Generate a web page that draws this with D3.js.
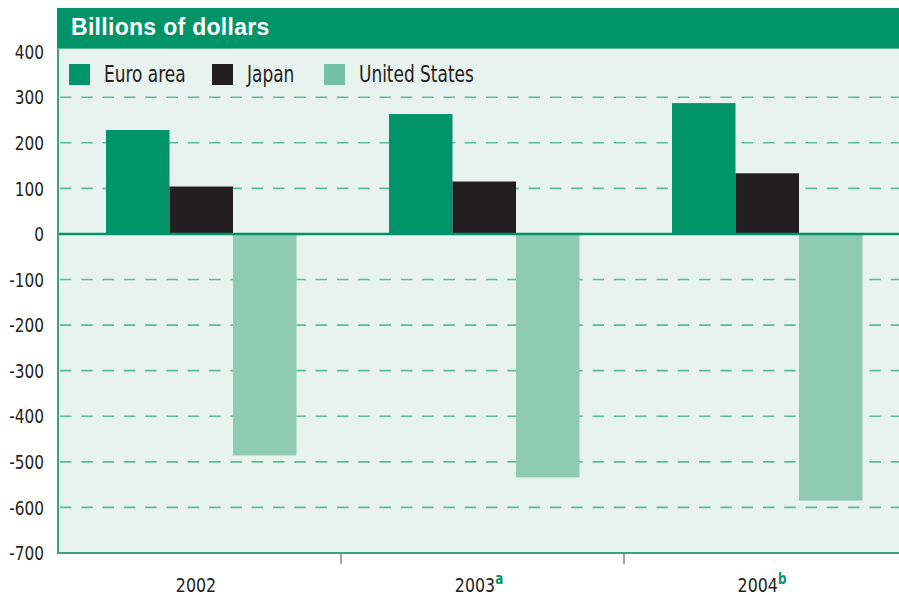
<!DOCTYPE html>
<html>
<head>
<meta charset="utf-8">
<script src="https://d3js.org/d3.v7.min.js"></script>
<style>
  body { margin: 0; background: #fff; }
  svg text { font-family: "DejaVu Sans Condensed", "Liberation Sans Narrow", "Roboto", sans-serif; }
</style>
</head>
<body>
<div id="container"></div>
<script>
// data
var years = ["2002", "2003", "2004"];
var yearNotes = ["", "a", "b"];
var seriesNames = ["Euro area", "Japan", "United States"];
var euroArea = [228, 263, 287];
var japan = [104, 115, 133];
var unitedStates = [-486, -534, -585];
var yTicks = [400, 300, 200, 100, 0, -100, -200, -300, -400, -500, -600, -700];

var barColors = ["#009468", "#231f20", "#8fcab5"];
var legendColors = ["#009468", "#231f20", "#74c0a6"];

var width = 899, height = 595;
var plotLeft = 58, plotRight = 899, plotTop = 8, plotBottom = 553;

var svg = d3.select("#container").append("svg")
  .attr("width", width)
  .attr("height", height);

var x0 = d3.scaleBand().domain(years).range([plotLeft, 907]);
var x1 = d3.scaleBand().domain(seriesNames).range([48, 238.5]);
var y = d3.scaleLinear().domain([-700, 400]).range([plotBottom, 51.6]);

var rows = years.map(function(yr, i) {
  return { year: yr, values: [euroArea[i], japan[i], unitedStates[i]] };
});

// condensed look: squeeze text horizontally
function squeeze(x, y, sx) {
  return "translate(" + x + "," + y + ") scale(" + sx + ",1)";
}

// plot background
svg.append("rect")
  .attr("x", plotLeft).attr("y", plotTop)
  .attr("width", plotRight - plotLeft).attr("height", plotBottom - plotTop)
  .attr("fill", "#e8f2ee");

// dashed gridlines
svg.append("g").selectAll("line")
  .data(yTicks.filter(function(d) { return d !== 0 && d !== 400 && d !== -700; }))
  .join("line")
  .attr("x1", plotLeft + 2).attr("x2", plotRight)
  .attr("y1", function(d) { return y(d); })
  .attr("y2", function(d) { return y(d); })
  .attr("stroke", "#5dbb97")
  .attr("stroke-width", 1.6)
  .attr("stroke-dasharray", "11.5,9.8");

// bars
var groups = svg.append("g").selectAll("g")
  .data(rows)
  .join("g")
  .attr("transform", function(d) { return "translate(" + x0(d.year) + ",0)"; });

groups.selectAll("rect")
  .data(function(d) { return d.values.map(function(v, j) { return { name: seriesNames[j], value: v, idx: j }; }); })
  .join("rect")
  .attr("x", function(d) { return x1(d.name); })
  .attr("width", x1.bandwidth())
  .attr("y", function(d) { return y(Math.max(0, d.value)); })
  .attr("height", function(d) { return Math.abs(y(d.value) - y(0)); })
  .attr("fill", function(d) { return barColors[d.idx]; });

// zero line
svg.append("line")
  .attr("x1", plotLeft).attr("x2", plotRight)
  .attr("y1", y(0)).attr("y2", y(0))
  .attr("stroke", "#009468")
  .attr("stroke-width", 2.5);

// axes lines
svg.append("line")
  .attr("x1", plotLeft).attr("x2", plotLeft)
  .attr("y1", plotTop).attr("y2", plotBottom)
  .attr("stroke", "#3aa57f").attr("stroke-width", 2);
svg.append("line")
  .attr("x1", plotLeft - 1).attr("x2", plotRight)
  .attr("y1", plotBottom).attr("y2", plotBottom)
  .attr("stroke", "#3aa57f").attr("stroke-width", 2);

// x ticks between bands
svg.append("g").selectAll("line")
  .data(years.slice(1))
  .join("line")
  .attr("x1", function(d) { return x0(d); })
  .attr("x2", function(d) { return x0(d); })
  .attr("y1", plotBottom + 1).attr("y2", plotBottom + 11)
  .attr("stroke", "#444").attr("stroke-width", 1);

// y tick labels
svg.append("g").selectAll("text")
  .data(yTicks)
  .join("text")
  .attr("transform", function(d) { return squeeze(44, y(d), 0.85); })
  .attr("dy", "0.36em")
  .attr("text-anchor", "end")
  .attr("font-size", 20)
  .attr("fill", "#231f20")
  .text(function(d) { return d; });

// x labels
var xl = svg.append("g").selectAll("text")
  .data(years)
  .join("text")
  .attr("transform", function(d) { return squeeze(x0(d) + 138, 592, 0.88); })
  .attr("text-anchor", "middle")
  .attr("font-size", 20)
  .attr("fill", "#231f20");
xl.append("tspan").text(function(d) { return d; });
xl.append("tspan")
  .attr("dy", -8)
  .attr("font-size", 15)
  .attr("font-weight", "bold")
  .attr("fill", "#009468")
  .text(function(d, i) { return yearNotes[i]; });

// header
svg.append("rect")
  .attr("x", plotLeft - 1).attr("y", plotTop)
  .attr("width", plotRight - plotLeft + 1).attr("height", 40)
  .attr("fill", "#009468");
svg.append("line")
  .attr("x1", plotLeft).attr("x2", plotRight)
  .attr("y1", 48.5).attr("y2", 48.5)
  .attr("stroke", "#5dbb97").attr("stroke-width", 1);
svg.append("text")
  .attr("x", 71).attr("y", 35)
  .attr("font-size", 23)
  .attr("font-weight", "bold")
  .attr("letter-spacing", 0.3)
  .attr("fill", "#fff")
  .style("font-family", "'Liberation Sans', Arial, sans-serif")
  .text("Billions of dollars");

// legend
var legendX = [69, 212, 324];
var legend = svg.append("g").selectAll("g")
  .data(seriesNames)
  .join("g")
  .attr("transform", function(d, i) { return "translate(" + legendX[i] + ",64)"; });
legend.append("rect")
  .attr("width", 21).attr("height", 21)
  .attr("fill", function(d, i) { return legendColors[i]; });
legend.append("text")
  .attr("transform", squeeze(35, 18, 0.82))
  .attr("font-size", 23)
  .attr("fill", "#231f20")
  .text(function(d) { return d; });
</script>
</body>
</html>
